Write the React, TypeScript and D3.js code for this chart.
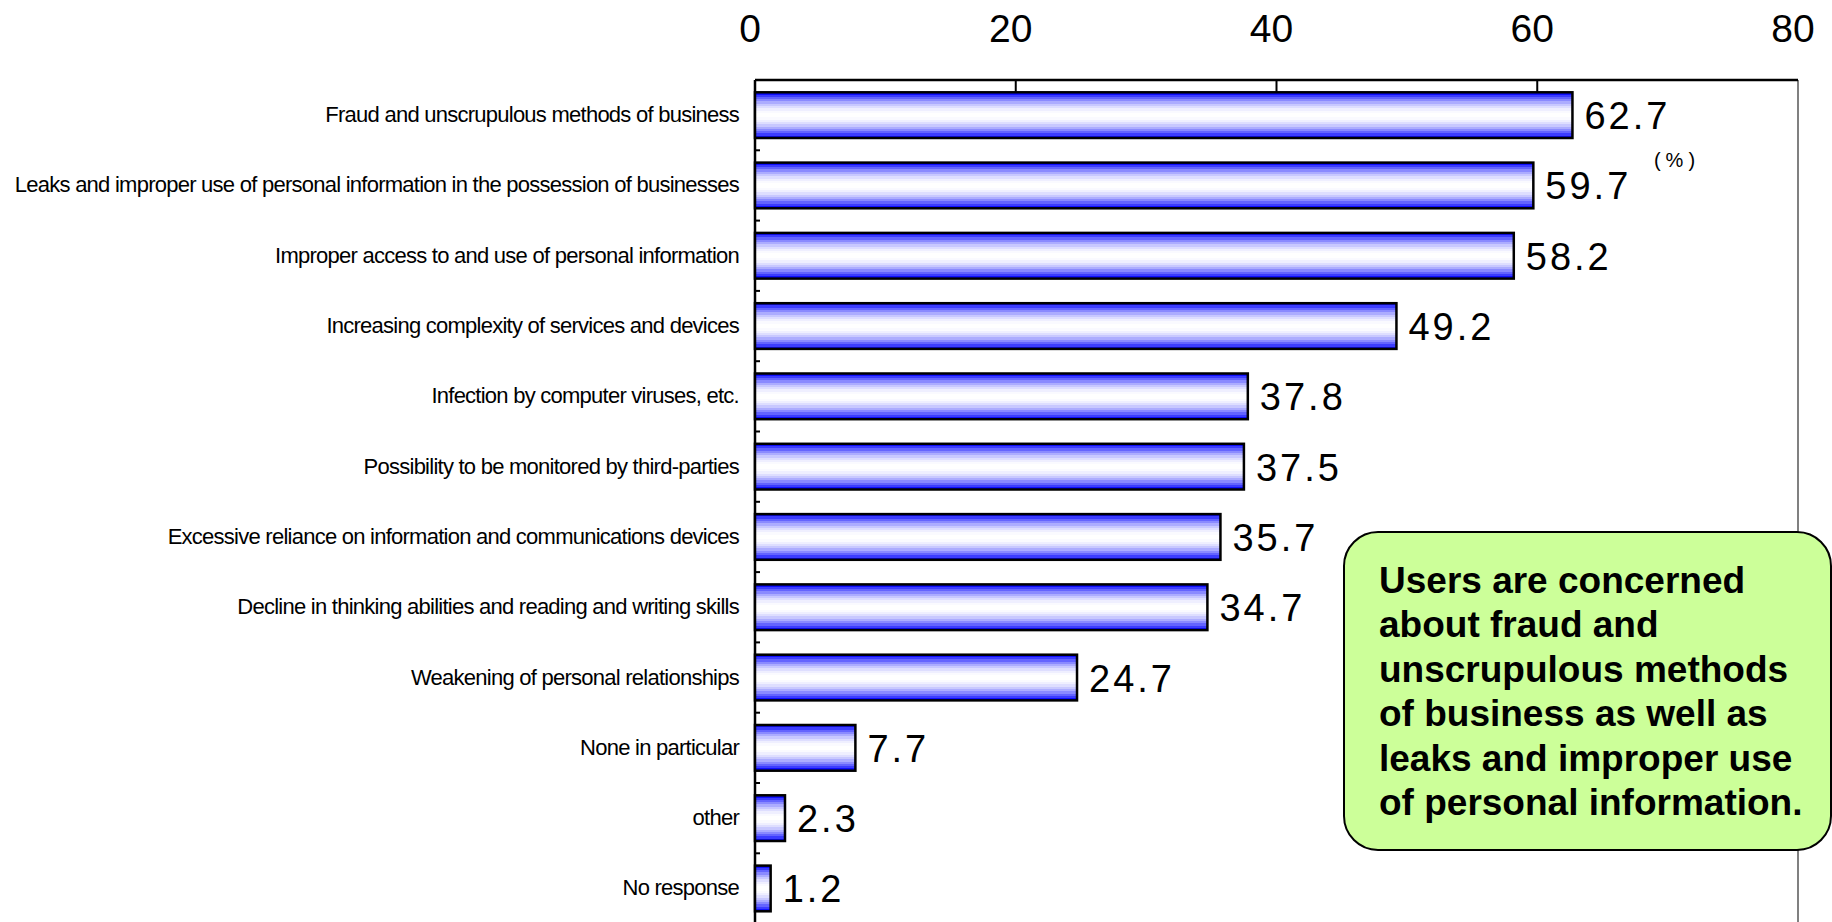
import React from "react";
import * as d3 from "d3";

const categories = [
  "Fraud and unscrupulous methods of business",
  "Leaks and improper use of personal information in the possession of businesses",
  "Improper access to and use of personal information",
  "Increasing complexity of services and devices",
  "Infection by computer viruses, etc.",
  "Possibility to be monitored by third-parties",
  "Excessive reliance on information and communications devices",
  "Decline in thinking abilities and reading and writing skills",
  "Weakening of personal relationships",
  "None in particular",
  "other",
  "No response",
];
const values = [62.7, 59.7, 58.2, 49.2, 37.8, 37.5, 35.7, 34.7, 24.7, 7.7, 2.3, 1.2];
const tickValues = [0, 20, 40, 60, 80];
const unitLabel = "(%)";
const noteLines = [
  "Users are concerned",
  "about fraud and",
  "unscrupulous methods",
  "of business as well as",
  "leaks and improper use",
  "of personal information.",
];
// banded gradient colours, top edge to centre
const bandColors = ["#1010ff", "#3c3cff", "#6464ff", "#8a8aff", "#acacff", "#c8c8ff", "#dedeff", "#efefff", "#fafaff", "#ffffff"];

const W = 1832;
const H = 922;
const left = 755;
const right = 1798;
const top = 80;
const band = 70.3;

export default function App() {
  const x = d3.scaleLinear().domain([0, 80]).range([left, right]);
  const y = d3
    .scaleBand<string>()
    .domain(categories)
    .range([top, top + band * categories.length])
    .paddingInner(0.35)
    .paddingOuter(0.175);
  const bh = y.bandwidth();
  const step = y.step();

  // build stepped stops (symmetric)
  const n = bandColors.length;
  const stops: { o: number; c: string }[] = [];
  bandColors.forEach((c, i) => {
    stops.push({ o: (i / n) * 0.5, c });
    stops.push({ o: ((i + 1) / n) * 0.5, c });
  });
  const allStops = [
    ...stops,
    ...stops
      .slice()
      .reverse()
      .map((s) => ({ o: 1 - s.o, c: s.c })),
  ];

  const sans = "'Liberation Sans', Arial, sans-serif";

  return (
    <svg
      width={W}
      height={H}
      style={{ position: "absolute", left: 0, top: 0, background: "#fff" }}
    >
      <defs>
        <linearGradient id="barGrad" x1="0" y1="0" x2="0" y2="1">
          {allStops.map((s, i) => (
            <stop key={i} offset={s.o} stopColor={s.c} />
          ))}
        </linearGradient>
      </defs>

      {/* top tick labels */}
      {tickValues.map((t) => (
        <text
          key={"tl" + t}
          x={x(t) - 5}
          y={42}
          textAnchor="middle"
          fontFamily={sans}
          fontSize={39}
          fill="#000"
        >
          {t}
        </text>
      ))}

      {/* frame */}
      <line x1={right} x2={right} y1={top} y2={H} stroke="#808080" strokeWidth={2} />
      <line x1={left} x2={right} y1={top} y2={top} stroke="#000" strokeWidth={2.5} />
      <line x1={left} x2={left} y1={top} y2={H} stroke="#000" strokeWidth={2.5} />

      {/* top ticks */}
      {tickValues.slice(1, -1).map((t) => (
        <line key={"tt" + t} x1={x(t)} x2={x(t)} y1={top} y2={top + 14} stroke="#000" strokeWidth={2} />
      ))}
      {/* left ticks between bands */}
      {categories.map((c, i) => (
        <line
          key={"lt" + i}
          x1={left}
          x2={left + 5}
          y1={top + step * i}
          y2={top + step * i}
          stroke="#000"
          strokeWidth={2}
        />
      ))}

      {/* bars */}
      {categories.map((c, i) => (
        <rect
          key={"b" + i}
          x={x(0)}
          y={y(c)}
          width={x(values[i]) - x(0)}
          height={bh}
          fill="url(#barGrad)"
          stroke="#000"
          strokeWidth={2.5}
        />
      ))}

      {/* category labels */}
      {categories.map((c, i) => (
        <text
          key={"c" + i}
          x={739}
          y={(y(c) as number) + bh / 2 + 7}
          textAnchor="end"
          fontFamily={sans}
          fontSize={22}
          letterSpacing={-0.75}
          fill="#000"
        >
          {c}
        </text>
      ))}

      {/* value labels */}
      {categories.map((c, i) => (
        <text
          key={"v" + i}
          x={x(values[i]) + 12}
          y={(y(c) as number) + bh / 2 + 14}
          fontFamily={sans}
          fontSize={38}
          letterSpacing={3}
          fill="#000"
        >
          {values[i].toFixed(1)}
        </text>
      ))}

      {/* unit */}
      <text
        x={1677}
        y={167}
        textAnchor="middle"
        fontFamily={sans}
        fontSize={20}
        letterSpacing={5}
        fill="#000"
      >
        {unitLabel}
      </text>

      {/* annotation */}
      <rect x={1344} y={532} width={487} height={318} rx={34} ry={34} fill="#ccff99" stroke="#000" strokeWidth={2} />
      {noteLines.map((l, i) => (
        <text
          key={"n" + i}
          x={1379}
          y={593 + 44.4 * i}
          fontFamily={sans}
          fontWeight="bold"
          fontSize={37}
          fill="#000"
        >
          {l}
        </text>
      ))}
    </svg>
  );
}
